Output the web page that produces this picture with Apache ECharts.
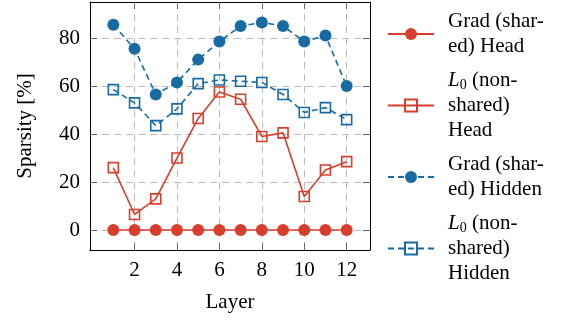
<!DOCTYPE html>
<html>
<head>
<meta charset="utf-8">
<script src="https://cdn.jsdelivr.net/npm/echarts@6/dist/echarts.min.js"></script>
<style>
html, body { margin: 0; background: #fff; }
#chart { width: 564px; height: 320px; }
</style>
</head>
<body>
<div id="chart"></div>
<script>
// data
const layers = [1, 2, 3, 4, 5, 6, 7, 8, 9, 10, 11, 12];
const gradHead = [0, 0, 0, 0, 0, 0, 0, 0, 0, 0, 0, 0];
const l0Head = [26, 6.5, 13, 30, 46.5, 57.5, 54.5, 39, 40.5, 14, 25, 28.5];
const gradHidden = [85.5, 75.5, 56.5, 61.5, 71, 78.5, 85, 86.5, 85, 78.5, 81, 60];
const l0Hidden = [58.5, 53, 43.5, 50.5, 61, 62.5, 62, 61.5, 56.5, 49, 51, 46];
const xTicks = [2, 4, 6, 8, 10, 12];
const yTicks = [0, 20, 40, 60, 80];
const legendText = {
    gh: 'Grad (shar-\ned) Head',
    lh: '{i|L}{s|0} (non-\nshared)\nHead',
    gd: 'Grad (shar-\ned) Hidden',
    ld: '{i|L}{s|0} (non-\nshared)\nHidden'
};

const red = '#d73f2c';
const blue = '#176aa2';
const font = 'Liberation Serif';

const pairs = vals => layers.map((l, i) => [l, vals[i]]);

function makeAxis(pos, range, ticks, primary) {
    return {
        type: 'value',
        position: pos,
        min: range[0],
        max: range[1],
        axisLine: { show: true, onZero: false, lineStyle: { color: '#000', width: 1 } },
        axisTick: { show: true, inside: true, length: 7, customValues: ticks, lineStyle: { color: '#666', width: 1 } },
        axisLabel: {
            show: primary,
            customValues: ticks,
            color: '#000',
            fontFamily: font,
            fontSize: 21,
            margin: 10
        },
        splitLine: {
            show: primary,
            lineStyle: { color: '#bbb', type: [7, 5], width: 1 }
        }
    };
}

const xMain = makeAxis('bottom', [-0.1, 13.1], xTicks, true);
xMain.name = 'Layer';
xMain.nameLocation = 'middle';
xMain.nameGap = 42;
xMain.nameTextStyle = { color: '#000', fontFamily: font, fontSize: 21 };

const yMain = makeAxis('left', [-8.3, 95], yTicks, true);
yMain.name = 'Sparsity [%]';
yMain.nameLocation = 'middle';
yMain.nameGap = 54;
yMain.nameTextStyle = { color: '#000', fontFamily: font, fontSize: 21 };

function circleSeries(name, vals, color, dashed) {
    return {
        name: name,
        type: 'line',
        data: pairs(vals),
        symbol: 'circle',
        symbolSize: 12,
        itemStyle: { color: color },
        lineStyle: { color: color, width: 1.6, type: dashed ? [6, 4] : 'solid' },
        animation: false
    };
}

function squareSeries(name, vals, color, dashed) {
    return {
        name: name,
        type: 'line',
        data: pairs(vals),
        symbol: 'rect',
        symbolSize: 10,
        itemStyle: { color: 'rgba(255,255,255,0)', borderColor: color, borderWidth: 1.6 },
        lineStyle: { color: color, width: 1.6, type: dashed ? [6, 4] : 'solid' },
        animation: false
    };
}

const chart = echarts.init(document.getElementById('chart'));
chart.setOption({
    backgroundColor: '#fff',
    animation: false,
    textStyle: { fontFamily: font },
    grid: { left: 90, right: 194, top: 2, bottom: 70 },
    xAxis: [xMain, makeAxis('top', [-0.1, 13.1], xTicks, false)],
    yAxis: [yMain, makeAxis('right', [-8.3, 95], yTicks, false)],
    legend: {
        orient: 'vertical',
        left: 387,
        top: 9,
        padding: 0,
        itemWidth: 46,
        itemHeight: 15,
        itemGap: 9,
        formatter: name => legendText[name],
        textStyle: {
            color: '#000',
            fontFamily: font,
            fontSize: 21,
            lineHeight: 25,
            padding: [0, 0, 0, 9],
            rich: {
                i: { fontFamily: font, fontStyle: 'italic', fontSize: 21, lineHeight: 25, color: '#000' },
                s: { fontFamily: font, fontSize: 14, lineHeight: 25, padding: [9, 0, 0, 0], color: '#000' }
            }
        }
    },
    series: [
        circleSeries('gh', gradHead, red, false),
        squareSeries('lh', l0Head, red, false),
        circleSeries('gd', gradHidden, blue, true),
        squareSeries('ld', l0Hidden, blue, true)
    ]
});
</script>
</body>
</html>
